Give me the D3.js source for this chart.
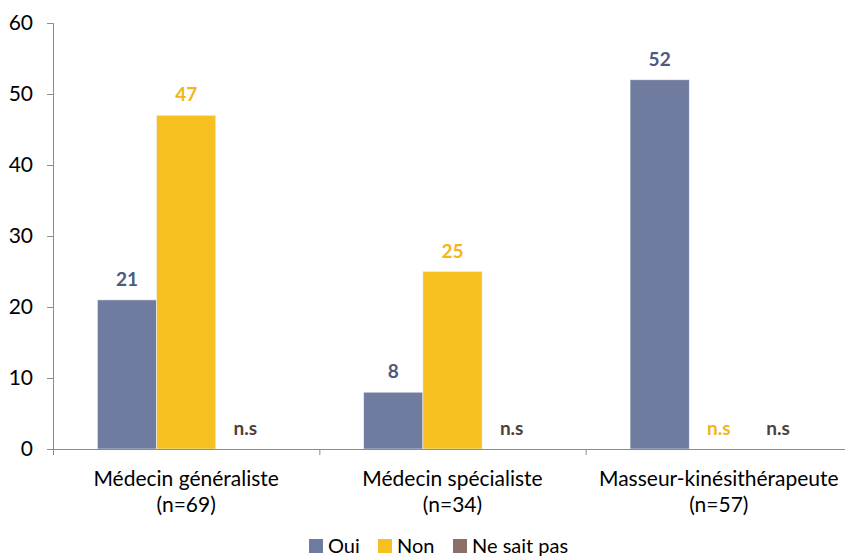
<!DOCTYPE html>
<html>
<head>
<meta charset="utf-8">
<script src="https://d3js.org/d3.v7.min.js"></script>
<style>
  body { margin: 0; background: #fff; }
  text { font-family: Lato, "Open Sans", sans-serif; }
</style>
</head>
<body>
<div id="chart"></div>
<script>
// categories and series (null = n.s, non significatif)
var categories = ["Médecin généraliste", "Médecin spécialiste", "Masseur-kinésithérapeute"];
var catCounts = ["(n=69)", "(n=34)", "(n=57)"];
var series = ["Oui", "Non", "Ne sait pas"];
var oui = [21, 8, 52];
var non = [47, 25, null];
var nsp = [null, null, null];
var yTicks = [0, 10, 20, 30, 40, 50, 60];

var colors = ["#707ba0", "#f6c120", "#8a7068"];
var labelColors = ["#4f5a80", "#f2b51c", "#4e413d"];

var W = 845, H = 559;
var margin = {top: 23, right: -7, bottom: 110, left: 53};
var width = W - margin.left - margin.right,
    height = H - margin.top - margin.bottom;

var values = [oui, non, nsp];
var data = categories.map(function(c, i) {
  return {cat: c, n: catCounts[i], vals: series.map(function(s, j) { return {s: s, j: j, v: values[j][i]}; })};
});

var svg = d3.select("#chart").append("svg")
  .attr("width", W).attr("height", H);
var g = svg.append("g").attr("transform", "translate(" + margin.left + "," + margin.top + ")");

var x0 = d3.scaleBand().domain(categories).range([0, width]).paddingInner(0).paddingOuter(0);
var x1 = d3.scaleBand().domain(series).range([0, x0.bandwidth()]).paddingOuter(0.75).paddingInner(0);
var y = d3.scaleLinear().domain([0, 60]).range([height, 0]);

// y axis
var yAxis = g.append("g").call(d3.axisLeft(y).tickValues(yTicks).tickSize(6).tickPadding(14));
yAxis.select(".domain").attr("stroke", "#8c8c8c").attr("d", "M0.5," + height + "V0.5H-6");
yAxis.selectAll(".tick line").attr("stroke", "#8c8c8c");
yAxis.selectAll(".tick text").attr("font-size", 21).attr("fill", "#000");

// bars
var groups = g.selectAll(".grp").data(data).enter().append("g")
  .attr("transform", function(d) { return "translate(" + x0(d.cat) + ",0)"; });

groups.selectAll("rect").data(function(d) { return d.vals.filter(function(v) { return v.v != null; }); })
  .enter().append("rect")
  .attr("x", function(d) { return x1(d.s); })
  .attr("width", x1.bandwidth())
  .attr("y", function(d) { return y(d.v); })
  .attr("height", function(d) { return height - y(d.v); })
  .attr("fill", function(d) { return colors[d.j]; })
  .attr("stroke", "#eef0f6").attr("stroke-width", 0.6);

groups.selectAll(".lbl").data(function(d) { return d.vals; })
  .enter().append("text")
  .attr("x", function(d) { return x1(d.s) + x1.bandwidth() / 2; })
  .attr("y", function(d) { return y(d.v == null ? 0 : d.v) - 14; })
  .attr("text-anchor", "middle")
  .attr("font-size", 19)
  .attr("font-weight", "bold")
  .attr("fill", function(d) { return labelColors[d.j]; })
  .text(function(d) { return d.v == null ? "n.s" : d.v; });

// x axis
var xAxis = g.append("g").attr("transform", "translate(0," + height + ")")
  .call(d3.axisBottom(x0).tickSize(0).tickFormat(""));
xAxis.select(".domain").attr("stroke", "#8c8c8c");
var bounds = [0].concat(categories.map(function(c) { return x0(c) + x0.bandwidth(); }));
xAxis.selectAll(".bnd").data(bounds).enter().append("line")
  .attr("x1", function(d) { return d + 0.5; }).attr("x2", function(d) { return d + 0.5; })
  .attr("y1", 0).attr("y2", 6).attr("stroke", "#8c8c8c");

var cl = g.selectAll(".cl").data(data).enter().append("text")
  .attr("x", function(d) { return x0(d.cat) + x0.bandwidth() / 2; })
  .attr("y", height + 37)
  .attr("text-anchor", "middle").attr("font-size", 21).attr("fill", "#000");
cl.append("tspan").text(function(d) { return d.cat; });
cl.append("tspan").attr("x", function(d) { return x0(d.cat) + x0.bandwidth() / 2; })
  .attr("dy", 26).text(function(d) { return d.n; });

// legend (nudged up a little so the text stays inside the frame)
var legX = [309, 378, 453];
var leg = svg.selectAll(".leg").data(series).enter().append("g")
  .attr("transform", function(d, i) { return "translate(" + legX[i] + ",539)"; });
leg.append("rect").attr("width", 14).attr("height", 14).attr("fill", function(d, i) { return colors[i]; });
leg.append("text").attr("x", 19).attr("y", 14).attr("font-size", 20).attr("fill", "#000")
  .text(function(d) { return d; });
</script>
</body>
</html>
